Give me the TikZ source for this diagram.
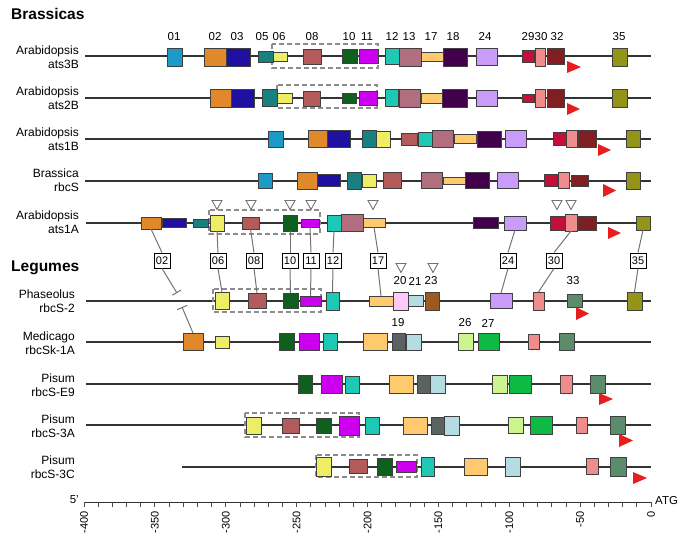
\documentclass[tikz,border=0pt]{standalone}
\usepackage{fontspec}
\setmainfont{Liberation Sans}
\usetikzlibrary{arrows.meta}
\definecolor{c01}{HTML}{1C9BC8}
\definecolor{c02}{HTML}{E0892B}
\definecolor{c03}{HTML}{1F10A0}
\definecolor{c05}{HTML}{18807F}
\definecolor{c06}{HTML}{EEEE66}
\definecolor{c08}{HTML}{B35A5A}
\definecolor{c10}{HTML}{0F5F1F}
\definecolor{c11}{HTML}{CC00EE}
\definecolor{c12}{HTML}{1EC8B4}
\definecolor{c13}{HTML}{B06E7E}
\definecolor{c17}{HTML}{FFC96E}
\definecolor{c18}{HTML}{42004C}
\definecolor{c24}{HTML}{C89CF8}
\definecolor{c29}{HTML}{C40F3A}
\definecolor{c30}{HTML}{F08C8C}
\definecolor{c32}{HTML}{801E22}
\definecolor{c35}{HTML}{94941A}
\definecolor{c19}{HTML}{5A6262}
\definecolor{c20}{HTML}{FFC8FA}
\definecolor{c21}{HTML}{B4DCE2}
\definecolor{c23}{HTML}{9C5A20}
\definecolor{c26}{HTML}{CCF590}
\definecolor{c27}{HTML}{0DBB44}
\definecolor{c33}{HTML}{5B8C6C}
\definecolor{cred}{HTML}{E81E1E}
\newcommand\G[6]{\node[gbox, fill=#6, minimum width={(#3-#2)*1pt}, minimum height={(#5-#4)*1pt}] (#1) at ({(#2+#3)/2},{(#4+#5)/2}) {};}
\newcommand\RA[4]{\fill[cred] (#1,#3) -- (#2,{(#3+#4)/2}) -- (#1,#4) -- cycle;}
\newcommand\TR[2]{\draw[trimark] ({#1-5},{#2-4.5}) -- ({#1+5},{#2-4.5}) -- (#1,{#2+4.5}) -- cycle;}
\tikzset{
  gbox/.style={draw=black!75, line width=0.7pt, inner sep=0pt, outer sep=0pt, rectangle},
  gline/.style={draw=black!80, line width=1.2pt},
  dbox/.style={draw=black!45, dash pattern=on 5pt off 3pt, line width=1.3pt},
  trimark/.style={draw=black!55, line width=0.9pt, fill=white},
  clab/.style={draw=black, line width=0.9pt, fill=white, minimum width=16pt, minimum height=15pt, inner sep=0.5pt, font=\fontsize{11}{12}\selectfont},
  cline/.style={draw=black!55, line width=1pt},
  num/.style={inner sep=0pt, font=\fontsize{11.5}{12}\selectfont},
  rlab/.style={anchor=east, align=right, inner sep=0pt, font=\fontsize{12}{14}\selectfont},
  head/.style={anchor=base west, inner sep=0pt, font=\fontsize{15.5}{17}\selectfont\bfseries},
}
\begin{document}
\begin{tikzpicture}[x=1pt,y=-1pt]
\useasboundingbox (0,0) rectangle (685,549);
\node[head] (hb) at (11,19) {Brassicas};
\node[head] (hl) at (11,271) {Legumes};
% row labels
\node[rlab] (r1) at (79,57) {Arabidopsis\\ats3B};
\node[rlab] (r2) at (79,98.5) {Arabidopsis\\ats2B};
\node[rlab] (r3) at (79,139) {Arabidopsis\\ats1B};
\node[rlab] (r4) at (79,180.5) {Brassica\\rbcS};
\node[rlab] (r5) at (79,222) {Arabidopsis\\ats1A};
\node[rlab] (r6) at (75,301.5) {Phaseolus\\rbcS-2};
\node[rlab] (r7) at (75,343) {Medicago\\rbcSk-1A};
\node[rlab] (r8) at (75,385) {Pisum\\rbcS-E9};
\node[rlab] (r9) at (75,426) {Pisum\\rbcS-3A};
\node[rlab] (r10) at (75,467) {Pisum\\rbcS-3C};
% backbone lines
\draw[gline] (85,56) -- (651,56);
\draw[gline] (85,98) -- (651,98);
\draw[gline] (85,139) -- (651,139);
\draw[gline] (85,181) -- (651,181);
\draw[gline] (86,223) -- (651,223);
\draw[gline] (86,301) -- (651,301);
\draw[gline] (86,342) -- (651,342);
\draw[gline] (86,384) -- (651,384);
\draw[gline] (86,425) -- (651,425);
\draw[gline] (182,467) -- (651,467);
% numbers at top
\foreach \t/\xx in {01/174,02/215,03/237,05/262,06/279,08/312,10/349,11/367,12/392,13/409,17/431,18/453,24/485,29/528,30/541,32/557,35/619}
  \node[num] (n\t) at (\xx,36.5) {\t};
% ---- row 1 ats3B
\draw[dbox] (272,44) rectangle (378,68);
\G{a01}{167}{182}{48}{66}{c01}
\G{a02}{204}{226}{48}{66}{c02}
\G{a03}{226}{250}{48}{66}{c03}
\G{a05}{258}{273}{51}{62}{c05}
\G{a06}{273}{287}{52}{61}{c06}
\G{a08}{303}{321}{49}{64}{c08}
\G{a10}{342}{357}{49}{63}{c10}
\G{a11}{359}{378}{49}{63}{c11}
\G{a12}{385}{399}{48}{64}{c12}
\G{a13}{399}{421}{48}{66}{c13}
\G{a17}{421}{443}{52}{61}{c17}
\G{a18}{443}{467}{48}{66}{c18}
\G{a24}{476}{497}{48}{65}{c24}
\G{a29}{522}{534}{50}{62}{c29}
\G{a30}{535}{545}{48}{66}{c30}
\G{a32}{547}{564}{48}{64}{c32}
\G{a35}{612}{627}{48}{66}{c35}
\RA{567}{581}{61}{73}
% ---- row 2 ats2B
\draw[dbox] (277,85) rectangle (377,108);
\G{b02}{210}{231}{89}{107}{c02}
\G{b03}{231}{254}{89}{107}{c03}
\G{b05}{262}{277}{89}{106}{c05}
\G{b06}{277}{292}{93}{103}{c06}
\G{b08}{303}{320}{91}{106}{c08}
\G{b10}{342}{356}{93}{103}{c10}
\G{b11}{359}{377}{91}{105}{c11}
\G{b12}{385}{398}{89}{106}{c12}
\G{b13}{399}{420}{89}{107}{c13}
\G{b17}{421}{442}{93}{103}{c17}
\G{b18}{442}{467}{89}{107}{c18}
\G{b24}{476}{497}{90}{106}{c24}
\G{b29}{522}{534}{94}{102}{c29}
\G{b30}{535}{545}{89}{107}{c30}
\G{b32}{547}{564}{89}{107}{c32}
\G{b35}{612}{627}{89}{107}{c35}
\RA{567}{580}{103}{115}
% ---- row 3 ats1B
\G{c01n}{268}{283}{131}{147}{c01}
\G{c02n}{308}{327}{130}{147}{c02}
\G{c03n}{327}{350}{130}{147}{c03}
\G{c05n}{362}{376}{130}{147}{c05}
\G{c06n}{376}{390}{131}{147}{c06}
\G{c08n}{401}{417}{133}{145}{c08}
\G{c12n}{418}{432}{132}{146}{c12}
\G{c13n}{432}{453}{130}{147}{c13}
\G{c17n}{454}{476}{134}{143}{c17}
\G{c18n}{477}{501}{131}{147}{c18}
\G{c24n}{505}{526}{130}{147}{c24}
\G{c29n}{553}{566}{132}{145}{c29}
\G{c30n}{566}{577}{130}{147}{c30}
\G{c32n}{578}{596}{130}{147}{c32}
\G{c35n}{626}{640}{130}{147}{c35}
\RA{598}{611}{144}{156}
% ---- row 4 Brassica rbcS
\G{d01}{258}{272}{173}{188}{c01}
\G{d02}{297}{317}{172}{189}{c02}
\G{d03}{317}{340}{174}{186}{c03}
\G{d05}{347}{361}{172}{189}{c05}
\G{d06}{362}{376}{174}{187}{c06}
\G{d08}{383}{401}{172}{188}{c08}
\G{d13}{421}{442}{172}{188}{c13}
\G{d17}{443}{465}{177}{184}{c17}
\G{d18}{465}{489}{172}{188}{c18}
\G{d24}{497}{518}{172}{188}{c24}
\G{d29}{544}{557}{174}{186}{c29}
\G{d30}{558}{569}{172}{188}{c30}
\G{d32}{571}{588}{175}{186}{c32}
\G{d35}{626}{640}{172}{189}{c35}
\RA{603}{616}{184}{197}
% ---- row 5 ats1A
\draw[dbox] (209,210) rectangle (320,234);
\G{e02}{141}{161}{217}{229}{c02}
\G{e03}{162}{186}{218}{227}{c03}
\G{e05}{193}{208}{219}{227}{c05}
\G{e06}{210}{224}{215}{231}{c06}
\G{e08}{242}{259}{217}{229}{c08}
\G{e10}{283}{297}{215}{231}{c10}
\G{e11}{301}{319}{219}{227}{c11}
\G{e12}{327}{341}{215}{231}{c12}
\G{e13}{341}{363}{214}{231}{c13}
\G{e17}{363}{385}{218}{227}{c17}
\G{e18}{473}{498}{217}{228}{c18}
\G{e24}{504}{526}{216}{230}{c24}
\G{e29}{550}{565}{216}{230}{c29}
\G{e30}{565}{577}{214}{231}{c30}
\G{e32}{578}{596}{216}{230}{c32}
\G{e35}{636}{650}{216}{230}{c35}
\RA{608}{621}{227}{239}
\TR{217}{205}\TR{251}{205}\TR{290}{205}\TR{311}{205}\TR{373}{205}\TR{557}{205}\TR{571}{205}
% ---- callout labels
\foreach \t/\xx in {02/162,06/218,08/254,10/290,11/311,12/333,17/378,24/508,30/554,35/638}
  \node[clab] (l\t) at (\xx,260.5) {\t};
% ---- row 6 Phaseolus
\draw[dbox] (213,289) rectangle (321,312);
\G{p06}{215}{229}{292}{309}{c06}
\G{p08}{248}{266}{293}{308}{c08}
\G{p10}{283}{298}{293}{308}{c10}
\G{p11}{300}{321}{296}{306}{c11}
\G{p12}{326}{339}{292}{310}{c12}
\G{p17}{369}{393}{296}{306}{c17}
\G{p20}{393}{408}{292}{310}{c20}
\G{p21}{408}{423}{295}{306}{c21}
\G{p23}{425}{439}{292}{310}{c23}
\G{p24}{490}{512}{293}{308}{c24}
\G{p30}{533}{544}{292}{310}{c30}
\G{p33}{567}{582}{294}{307}{c33}
\G{p35}{627}{642}{292}{310}{c35}
\RA{576}{589}{307}{320}
\TR{401}{268}\TR{433}{268}
\node[num] (n20) at (400,281) {20};
\node[num] (n21) at (415,281) {21};
\node[num] (n23) at (431,281) {23};
\node[num] (n33) at (573,281) {33};
% ---- row 7 Medicago
\G{m02}{183}{203}{333}{350}{c02}
\G{m06}{215}{229}{336}{348}{c06}
\G{m10}{279}{294}{333}{350}{c10}
\G{m11}{299}{319}{333}{350}{c11}
\G{m12}{323}{337}{333}{350}{c12}
\G{m17}{363}{387}{333}{350}{c17}
\G{m19}{392}{405}{333}{350}{c19}
\G{m21}{406}{421}{334}{350}{c21}
\G{m26}{458}{473}{333}{350}{c26}
\G{m27}{478}{499}{333}{350}{c27}
\G{m30}{528}{539}{334}{349}{c30}
\G{m33}{559}{574}{333}{350}{c33}
\node[num] (n19) at (398,323) {19};
\node[num] (n26) at (465,323) {26};
\node[num] (n27) at (488,323) {27};
% ---- row 8 Pisum E9
\G{f10}{298}{312}{375}{393}{c10}
\G{f11}{321}{342}{375}{393}{c11}
\G{f12}{345}{359}{376}{393}{c12}
\G{f17}{389}{413}{375}{393}{c17}
\G{f19}{417}{430}{375}{393}{c19}
\G{f21}{430}{445}{375}{393}{c21}
\G{f26}{492}{507}{375}{393}{c26}
\G{f27}{509}{531}{375}{393}{c27}
\G{f30}{560}{572}{375}{393}{c30}
\G{f33}{590}{605}{375}{393}{c33}
\RA{599}{613}{393}{405}
% ---- row 9 Pisum 3A
\draw[dbox] (245,413) rectangle (359,437);
\G{g06}{246}{261}{417}{434}{c06}
\G{g08}{282}{299}{418}{433}{c08}
\G{g10}{316}{331}{418}{433}{c10}
\G{g11}{339}{359}{416}{435}{c11}
\G{g12}{365}{379}{417}{434}{c12}
\G{g17}{403}{427}{417}{434}{c17}
\G{g19}{431}{444}{417}{434}{c19}
\G{g21}{444}{459}{416}{435}{c21}
\G{g26}{508}{523}{417}{433}{c26}
\G{g27}{530}{552}{416}{434}{c27}
\G{g30}{576}{587}{417}{433}{c30}
\G{g33}{610}{625}{416}{434}{c33}
\RA{619}{633}{434}{447}
% ---- row 10 Pisum 3C
\draw[dbox] (316,455) rectangle (417,477);
\G{h06}{316}{331}{457}{476}{c06}
\G{h08}{349}{367}{459}{473}{c08}
\G{h10}{377}{392}{458}{475}{c10}
\G{h11}{396}{416}{461}{472}{c11}
\G{h12}{421}{434}{457}{476}{c12}
\G{h17}{464}{487}{458}{475}{c17}
\G{h21}{505}{520}{457}{476}{c21}
\G{h30}{586}{598}{458}{474}{c30}
\G{h33}{610}{626}{457}{476}{c33}
\RA{633}{647}{472}{484}
% ---- connectors
\foreach \t in {02,06,08,10,11,12,17,24,30,35}
  \draw[cline] (e\t.south) -- (l\t.north);
\foreach \t in {06,08,10,11,12,17,24,30,35}
  \draw[cline] (l\t.south) -- (p\t.north);
\coordinate (t1) at (177,293);
\coordinate (t2) at (182,307);
\draw[cline, -{Bar[width=10pt,line width=1pt]}] (l02.south) -- (t1);
\draw[cline, {Bar[width=11pt,line width=1pt]}-] (t2) -- (m02.north);
% ---- axis
\draw[draw=black!80, line width=1pt] (84,502) -- (651,502);
\foreach \i in {0,...,40}
  \draw[draw=black!70, line width=0.8pt] ({84+\i*14.175},502) -- ++(0,5);
\foreach \v in {-400,-350,...,0}
  \node[rotate=90, anchor=east, inner sep=0pt, font=\fontsize{11}{12}\selectfont] (ax\v) at ({651+\v*1.4175},511) {\v};
\node[anchor=east, inner sep=0pt, font=\fontsize{11.5}{12}\selectfont] (five) at (79,500) {5'};
\node[anchor=west, inner sep=0pt, font=\fontsize{11.5}{12}\selectfont] (atg) at (655,501) {ATG};
\end{tikzpicture}
\end{document}
